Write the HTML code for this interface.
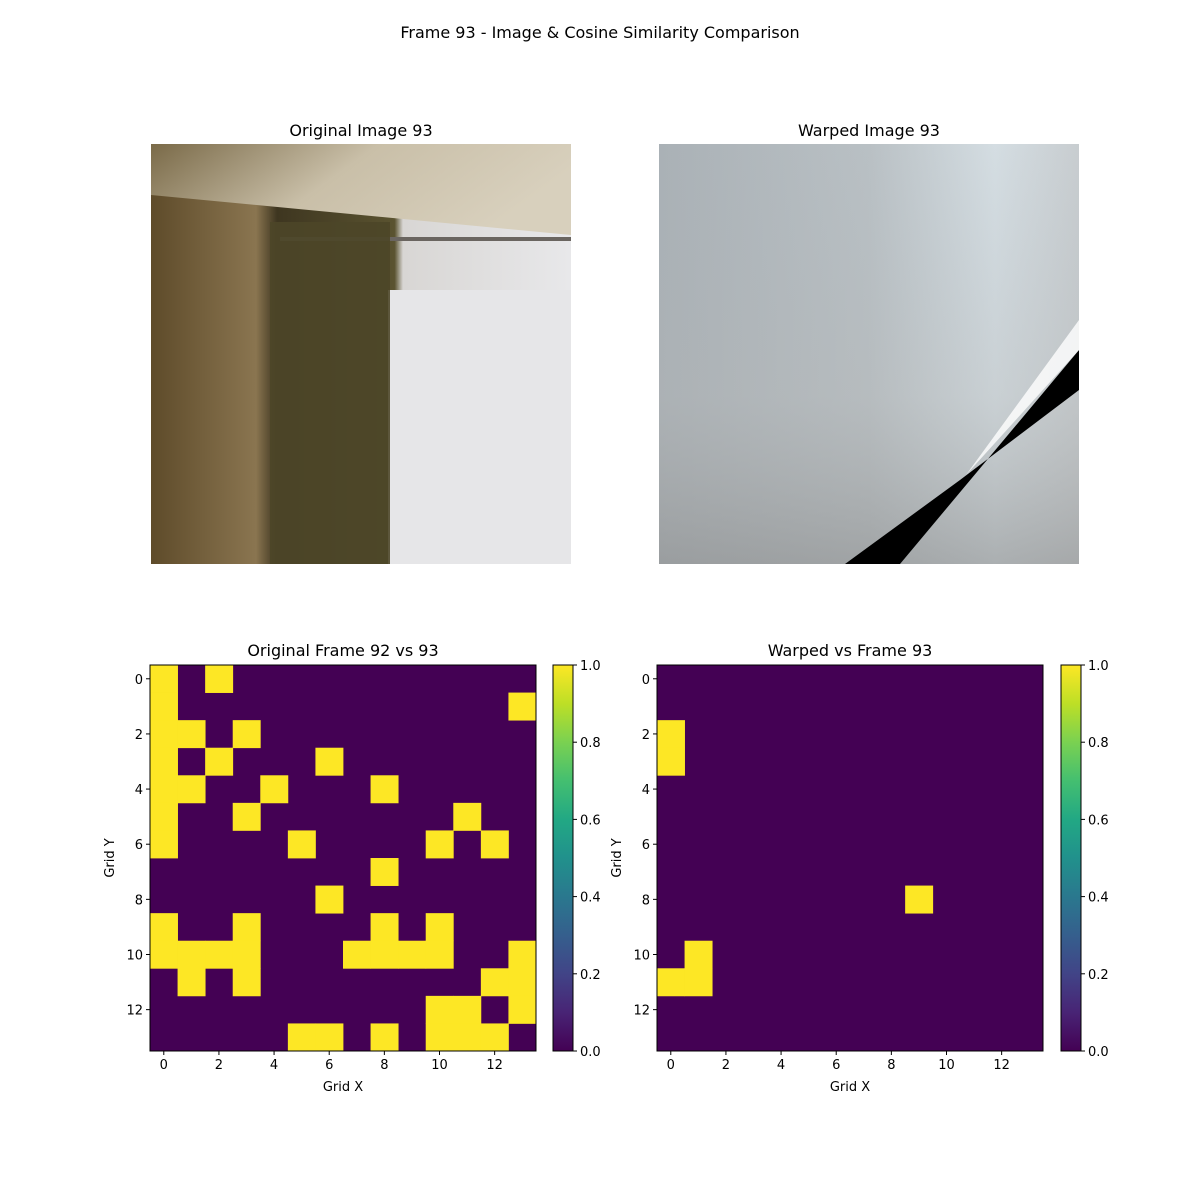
<!DOCTYPE html>
<html><head><meta charset="utf-8"><style>
html,body{margin:0;padding:0;background:#fff;}
svg{display:block;font-family:"DejaVu Sans","Liberation Sans",sans-serif;}
</style></head><body>
<svg id="fig" width="1200" height="1200" xmlns="http://www.w3.org/2000/svg">
<defs>
<linearGradient id="viridis" x1="0" y1="1" x2="0" y2="0">
<stop offset="0" stop-color="#440154"/><stop offset="0.1" stop-color="#482475"/><stop offset="0.2" stop-color="#414487"/><stop offset="0.3" stop-color="#355f8d"/><stop offset="0.4" stop-color="#2a788e"/><stop offset="0.5" stop-color="#21918c"/><stop offset="0.6" stop-color="#22a884"/><stop offset="0.7" stop-color="#44bf70"/><stop offset="0.8" stop-color="#7ad151"/><stop offset="0.9" stop-color="#bddf26"/><stop offset="1" stop-color="#fde725"/>
</linearGradient>
<linearGradient id="wallH" x1="0" y1="0" x2="1" y2="0"><stop offset="0" stop-color="#5e4b2a"/><stop offset="0.25" stop-color="#8a7550"/><stop offset="0.3" stop-color="#3e3620"/><stop offset="0.58" stop-color="#5a5330"/><stop offset="0.6" stop-color="#d8d6d4"/><stop offset="1" stop-color="#e8e8ea"/></linearGradient>
<linearGradient id="ceil" x1="0" y1="0" x2="1" y2="0.3"><stop offset="0" stop-color="#7a6a48"/><stop offset="0.5" stop-color="#c9bfa8"/><stop offset="1" stop-color="#d8d0bd"/></linearGradient>
<linearGradient id="warpBg" x1="0" y1="0" x2="1" y2="0"><stop offset="0" stop-color="#aab1b6"/><stop offset="0.5" stop-color="#b9c0c4"/><stop offset="0.8" stop-color="#d4dde2"/><stop offset="1" stop-color="#c8cdd0"/></linearGradient>
<linearGradient id="warpV" x1="0" y1="0" x2="0" y2="1"><stop offset="0" stop-color="#a8aeb2" stop-opacity="0"/><stop offset="0.6" stop-color="#b0b2b2" stop-opacity="0.3"/><stop offset="1" stop-color="#8f9090" stop-opacity="0.6"/></linearGradient>
</defs>
<text x="600" y="38" font-size="16" text-anchor="middle">Frame 93 - Image &amp; Cosine Similarity Comparison</text>

<g>
<text x="361" y="136" font-size="16" text-anchor="middle">Original Image 93</text>
<rect x="151" y="144" width="420" height="420" fill="url(#wallH)"/>
<polygon points="151,144 571,144 571,235 151,195" fill="url(#ceil)"/>
<rect x="280" y="237" width="291" height="4" fill="#6a6560"/>
<rect x="388" y="290" width="183" height="274" fill="#e6e6e8"/>
<rect x="270" y="222" width="120" height="342" fill="#4d4628" opacity="0.9"/>
</g>

<g>
<text x="869" y="136" font-size="16" text-anchor="middle">Warped Image 93</text>
<rect x="659" y="144" width="420" height="420" fill="url(#warpBg)"/>
<rect x="659" y="144" width="420" height="420" fill="url(#warpV)"/>
<polygon points="1079,350 1079,390 960,480 845,564 900,564" fill="#000"/>
<polygon points="1079,320 1079,350 966,475" fill="#ffffff" opacity="0.8"/>
</g>

<g id="hm1"></g>
<g id="hm2"></g>
</svg>
<script>
const NS="http://www.w3.org/2000/svg";
const gridSize=14;
const originalOnes=[[0,2],[0,13],[0,1,3],[0,2,6],[0,1,4,8],[0,3,11],[0,5,10,12],[8],[6],[0,3,8,10],[0,1,2,3,7,8,9,10,13],[1,3,12,13],[10,11,13],[5,6,8,10,11,12]];
const warpedOnes=[[],[],[0],[0],[],[],[],[],[9],[],[1],[0,1],[],[]];
const axisTicks=[0,2,4,6,8,10,12];
const cbTicks=[0,0.2,0.4,0.6,0.8,1.0];

function el(tag,attrs,parent){const e=document.createElementNS(NS,tag);for(const k in attrs)e.setAttribute(k,attrs[k]);parent.appendChild(e);return e;}

function drawHeat(g,ones,x0,title,cbx){
  const y0=665,S=386,c=S/gridSize;
  const sx=v=>x0+(v+0.5)*c, sy=v=>y0+(v+0.5)*c;
  const t=el('text',{x:x0+S/2,y:656,'font-size':16,'text-anchor':'middle'},g);t.textContent=title;
  
  
  el('rect',{x:x0,y:y0,width:S,height:S,fill:'#440154'},g);
  ones.forEach((row,r)=>row.forEach(col=>{
    const cell=el('rect',{x:sx(col)-c/2,y:sy(r)-c/2,width:c+0.4,height:c+0.4,fill:'#fde725'},g);
    
    
  }));
  el('rect',{x:x0,y:y0,width:S,height:S,fill:'none',stroke:'#000','stroke-width':1},g);
  axisTicks.forEach(v=>{
    el('line',{x1:sx(v),x2:sx(v),y1:y0+S,y2:y0+S+4,stroke:'#000'},g);
    const tx=el('text',{x:sx(v),y:y0+S+18,'font-size':13,'text-anchor':'middle'},g);tx.textContent=v;
    
    
    el('line',{x1:x0-4,x2:x0,y1:sy(v),y2:sy(v),stroke:'#000'},g);
    const ty=el('text',{x:x0-7,y:sy(v)+5,'font-size':13,'text-anchor':'end'},g);ty.textContent=v;
    
    
  });
  const xl=el('text',{x:x0+S/2,y:1091,'font-size':13,'text-anchor':'middle'},g);xl.textContent='Grid X';
  
  
  const yl=el('text',{x:0,y:0,'font-size':13,'text-anchor':'middle',transform:`translate(${x0-36},${y0+S/2}) rotate(-90)`},g);yl.textContent='Grid Y';
  
  
  const cb=el('rect',{x:cbx,y:y0,width:20,height:S,fill:'url(#viridis)',stroke:'#000','stroke-width':1},g);
  
  
  cbTicks.forEach(v=>{
    const y=y0+S-v*S;
    el('line',{x1:cbx+20,x2:cbx+24,y1:y,y2:y,stroke:'#000'},g);
    const tl=el('text',{x:cbx+27,y:y+5,'font-size':13},g);tl.textContent=v.toFixed(1);
    
    
  });
}
drawHeat(document.getElementById('hm1'),originalOnes,150,'Original Frame 92 vs 93',553);
drawHeat(document.getElementById('hm2'),warpedOnes,657,'Warped vs Frame 93',1061);
</script>
</body></html>
